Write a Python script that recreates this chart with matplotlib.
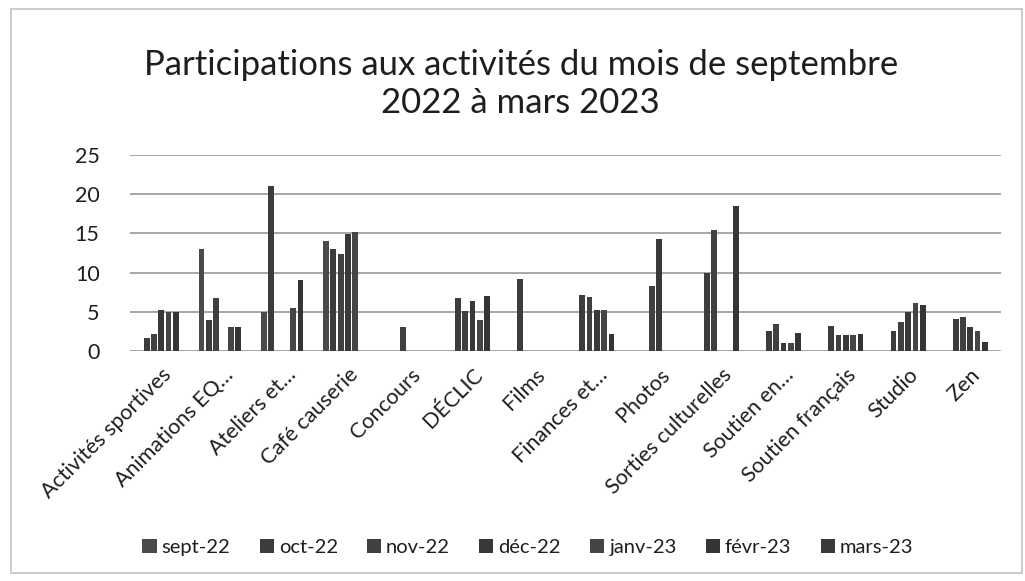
import matplotlib.pyplot as plt
import numpy as np
from matplotlib.patches import Rectangle

plt.rcParams['font.family'] = ['Lato', 'DejaVu Sans']

categories = ["Activités sportives", "Animations EQ…", "Ateliers et…", "Café causerie",
              "Concours", "DÉCLIC", "Films", "Finances et…", "Photos",
              "Sorties culturelles", "Soutien en…", "Soutien français", "Studio", "Zen"]
months = ["sept-22", "oct-22", "nov-22", "déc-22", "janv-23", "févr-23", "mars-23"]

sept_22 = [0, 13, 5, 14, 0, 0, 0, 0, 0, 0, 0, 0, 0, 0]
oct_22 = [1.6, 4, 21, 13, 0, 6.8, 9.2, 7.2, 0, 10, 2.6, 3.2, 2.6, 4.1]
nov_22 = [2.1, 6.7, 0, 12.4, 3, 5.1, 0, 6.9, 8.3, 15.4, 3.5, 2, 3.7, 4.3]
dec_22 = [5.2, 0, 0, 14.9, 0, 6.4, 0, 5.2, 14.3, 0, 1, 2, 5, 3.1]
janv_23 = [5, 3, 5.5, 15.2, 0, 4, 0, 5.2, 0, 0, 1, 2, 6.1, 2.6]
fevr_23 = [5, 3, 9.1, 0, 0, 7, 0, 2.2, 0, 18.5, 2.3, 2.2, 5.9, 1.1]
mars_23 = [0, 0, 0, 0, 0, 0, 0, 0, 0, 0, 0, 0, 0, 0]

series = [sept_22, oct_22, nov_22, dec_22, janv_23, fevr_23, mars_23]
colors = ["#4a4a4a", "#3c3c3c", "#404040", "#383838", "#454545", "#353535", "#3a3a3a"]
text_color = "#1e1e1e"

fig = plt.figure(figsize=(10.25, 5.81), dpi=100)
ax = fig.add_axes([0.127, 0.396, 0.85, 0.337])

x = np.arange(len(categories))
slot = 0.1176
width = 0.092
for i, (vals, m) in enumerate(zip(series, months)):
    ax.bar(x + (i - 3) * slot, vals, width=width, color=colors[i], label=m, zorder=3)

ax.set_xlim(-0.5, len(categories) - 0.5)
ax.set_ylim(0, 25)
ax.set_yticks([0, 5, 10, 15, 20, 25])
ax.yaxis.grid(True, color="#a0a0a0", linewidth=1.3, zorder=0)
for s in ax.spines.values():
    s.set_visible(False)
ax.tick_params(axis="both", length=0, colors=text_color)
ax.tick_params(axis="y", labelsize=15.5, pad=22)
ax.set_xticks(x)
ax.set_xticklabels(categories, rotation=45, ha="right", rotation_mode="anchor",
                   fontsize=15.5, color=text_color)
ax.tick_params(axis="x", pad=10)

fig.suptitle("Participations aux activités du mois de septembre\n2022 à mars 2023",
             x=0.508, y=0.915, fontsize=25, color=text_color, linespacing=1.2)

fig.legend(loc="center", bbox_to_anchor=(0.515, 0.057), ncol=7, frameon=False,
           fontsize=14.5, handlelength=0.7, handleheight=0.7, handletextpad=0.25,
           columnspacing=1.45, labelcolor=text_color)

# light frame of the chart area
fig.patches.append(Rectangle((0.011, 0.014), 0.986, 0.97, transform=fig.transFigure,
                             fill=False, edgecolor="#c4c4c4", linewidth=1.2))

fig.savefig("out.png", dpi=100)
